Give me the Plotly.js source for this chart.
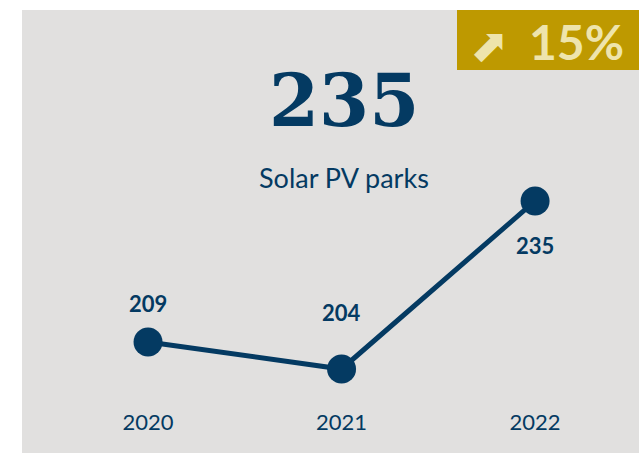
<!DOCTYPE html>
<html>
<head>
<meta charset="utf-8">
<script src="https://cdn.plot.ly/plotly-3.0.1.min.js"></script>
<style>html,body{margin:0;padding:0;background:#fff;}#chart{width:639px;height:453px;}</style>
</head>
<body>
<div id="chart"></div>
<script>
const years = ["2020", "2021", "2022"];
const parks = [209, 204, 235];
const labelShift = [38, 57, -45];
const headline = "235";
const headlineLabel = "Solar PV parks";
const changeText = "15%";

const navy = "#043A62";
const W = 639, H = 453, B = 46;
const PH = H - B;
const py = p => (PH - p) / PH;   // pixel y -> paper y
const px = p => p / W;

const trace = {
  x: years, y: parks, type: "scatter", mode: "lines+markers",
  line: {color: navy, width: 5},
  marker: {color: navy, size: 29},
  hoverinfo: "skip", cliponaxis: false
};

const annotations = years.map((yr, i) => ({
  x: i, y: parks[i], xref: "x", yref: "y", text: String(parks[i]),
  showarrow: false, yshift: labelShift[i], xanchor: "center", yanchor: "middle",
  font: {family: "Lato", size: 22, color: navy, weight: "bold"}
}));
annotations.push(
  {xref: "paper", yref: "paper", x: px(344), y: py(100), xanchor: "center", yanchor: "middle",
   text: headline, showarrow: false, font: {family: "DejaVu Serif", size: 72, color: navy, weight: "bold"}},
  {xref: "paper", yref: "paper", x: px(344), y: py(178), xanchor: "center", yanchor: "middle",
   text: headlineLabel, showarrow: false, font: {family: "Lato", size: 27, color: navy}},
  {xref: "paper", yref: "paper", x: px(489), y: py(45), xanchor: "center", yanchor: "middle",
   text: "⬈", showarrow: false, font: {family: "DejaVu Sans", size: 46, color: "#EEE4AC"}},
  {xref: "paper", yref: "paper", x: px(576), y: py(42), xanchor: "center", yanchor: "middle",
   text: changeText, showarrow: false, font: {family: "Lato", size: 48, color: "#EEE4AC", weight: "bold"}}
);

const layout = {
  width: W, height: H,
  margin: {l: 0, r: 0, t: 0, b: B, pad: 0},
  paper_bgcolor: "#ffffff", plot_bgcolor: "rgba(0,0,0,0)",
  showlegend: false,
  xaxis: {type: "category", range: [-0.765, 2.537], showgrid: false, zeroline: false, showline: false,
          ticks: "", tickfont: {family: "Lato", size: 22, color: navy}, fixedrange: true},
  yaxis: {range: [196.99, 272.08], visible: false, showgrid: false, zeroline: false, fixedrange: true},
  shapes: [
    {type: "rect", xref: "paper", yref: "paper", x0: px(22), x1: 1, y0: py(H), y1: py(10),
     fillcolor: "#E1E0DF", line: {width: 0}, layer: "below"},
    {type: "rect", xref: "paper", yref: "paper", x0: px(457), x1: 1, y0: py(70), y1: py(10),
     fillcolor: "#BE9900", line: {width: 0}, layer: "below"}
  ],
  annotations: annotations
};

Plotly.newPlot("chart", [trace], layout, {displayModeBar: false, staticPlot: true});
</script>
</body>
</html>
